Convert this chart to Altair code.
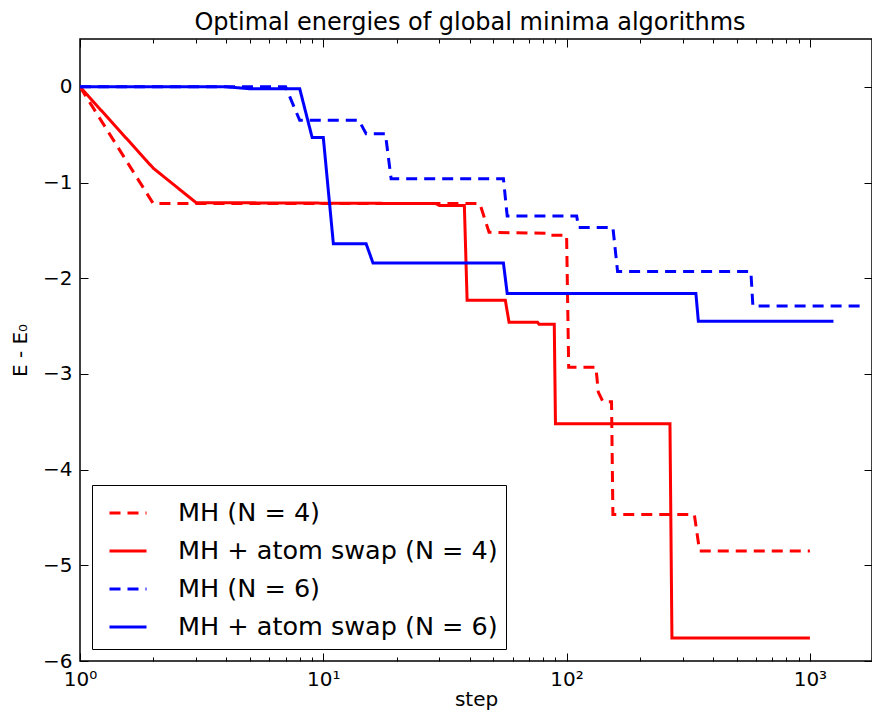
import altair as alt
import pandas as pd

series_names = ["MH (N = 4)", "MH + atom swap (N = 4)", "MH (N = 6)", "MH + atom swap (N = 6)"]
series_colors = ["#ff0000", "#ff0000", "#0000ff", "#0000ff"]
series_dashes = [[11, 7], [1, 0], [11, 7], [1, 0]]

# MH (N = 4)  -- red dashed
mh4_step = [1, 2, 44, 48, 84, 85, 100, 102, 132, 135, 141, 153, 155, 335, 352, 1000]
mh4_E = [0, -1.22, -1.22, -1.52, -1.53, -1.55, -1.55, -2.93, -2.93, -3.19, -3.29, -3.29,
         -4.47, -4.47, -4.85, -4.85]

# MH + atom swap (N = 4) -- red solid
swap4_step = [1, 2, 3, 29, 30, 38, 39, 56, 58, 76, 77, 89, 90, 266, 271, 1000]
swap4_E = [0, -0.85, -1.21, -1.22, -1.24, -1.24, -2.23, -2.23, -2.46, -2.46, -2.48, -2.48,
           -3.52, -3.52, -5.76, -5.76]

# MH (N = 6) -- blue dashed
mh6_step = [1, 7, 8, 14, 15, 18, 19, 55, 57, 110, 112, 155, 162, 572, 583, 1680]
mh6_E = [0, 0, -0.35, -0.35, -0.49, -0.49, -0.96, -0.96, -1.35, -1.35, -1.47, -1.47,
         -1.93, -1.93, -2.29, -2.29]

# MH + atom swap (N = 6) -- blue solid
swap6_step = [1, 4, 5, 8, 9, 10, 11, 15, 16, 55, 57, 340, 348, 1250]
swap6_E = [0, 0, -0.02, -0.02, -0.53, -0.53, -1.64, -1.64, -1.84, -1.84, -2.16, -2.16,
           -2.45, -2.45]

x_domain = [1, 1800]
y_domain = [-6, 0.5]
x_major = [1, 10, 100, 1000]
x_major_labels = ["10⁰", "10¹", "10²", "10³"]
x_minor = [m * 10 ** k for k in range(3) for m in range(2, 10)]
y_ticks = [-6, -5, -4, -3, -2, -1, 0]

rows = []
for name, steps, energies in zip(series_names,
                                 [mh4_step, swap4_step, mh6_step, swap6_step],
                                 [mh4_E, swap4_E, mh6_E, swap6_E]):
    for i, (s, e) in enumerate(zip(steps, energies)):
        rows.append({"series": name, "step": s, "energy": e, "order": i})
df = pd.DataFrame(rows)

W, H = 792, 622
x_ticks = sorted(x_major + x_minor)
label_expr = " : ".join(f"datum.value == {v} ? '{l}'" for v, l in zip(x_major, x_major_labels)) + " : ''"
major_test = "indexof([" + ",".join(str(v) for v in x_major) + "], datum.value) >= 0"
x_tick_size = {"condition": {"test": major_test, "value": 8}, "value": 4}

xs = alt.Scale(type="log", domain=x_domain, nice=False)
ys = alt.Scale(domain=y_domain, nice=False, zero=False)

base = alt.Chart(df)

lines = base.mark_line(strokeWidth=3, clip=True).encode(
    x=alt.X("step:Q", scale=xs,
            axis=alt.Axis(orient="bottom", values=x_ticks, labelExpr=label_expr, ticks=False,
                          domain=False, grid=False, labelOverlap=False, labelFlush=False,
                          labelPadding=8, labelFontSize=20, title="step", titleFontSize=20,
                          titlePadding=0)),
    y=alt.Y("energy:Q", scale=ys,
            axis=alt.Axis(orient="left", values=y_ticks, ticks=False, domain=False, grid=False,
                          labelPadding=8, labelFontSize=20, title="E - E₀", titleFontSize=20,
                          titlePadding=12)),
    color=alt.Color("series:N", scale=alt.Scale(domain=series_names, range=series_colors),
                    legend=alt.Legend(title=None)),
    strokeDash=alt.StrokeDash("series:N", scale=alt.Scale(domain=series_names, range=series_dashes),
                              legend=alt.Legend(title=None)),
    order="order:Q",
)

ticks_in_a = base.mark_line(opacity=0).encode(
    x=alt.X("step:Q", scale=xs,
            axis=alt.Axis(orient="top", offset=-H, values=x_ticks, labels=False, domain=False,
                          grid=False, ticks=True, tickSize=x_tick_size, tickColor="black",
                          tickWidth=1, title=None)),
    y=alt.Y("energy:Q", scale=ys,
            axis=alt.Axis(orient="right", offset=-W, values=y_ticks, labels=False, domain=False,
                          grid=False, ticks=True, tickSize=8, tickColor="black", tickWidth=1,
                          title=None)),
    detail="series:N",
)

ticks_in_b = base.mark_line(opacity=0).encode(
    x=alt.X("step:Q", scale=xs,
            axis=alt.Axis(orient="bottom", offset=-H, values=x_ticks, labels=False, domain=False,
                          grid=False, ticks=True, tickSize=x_tick_size, tickColor="black",
                          tickWidth=1, title=None)),
    y=alt.Y("energy:Q", scale=ys,
            axis=alt.Axis(orient="left", offset=-W, values=y_ticks, labels=False, domain=False,
                          grid=False, ticks=True, tickSize=8, tickColor="black", tickWidth=1,
                          title=None)),
    detail="series:N",
)

chart = alt.layer(ticks_in_a, ticks_in_b, lines).resolve_axis(
    x="independent", y="independent"
).properties(
    width=W,
    height=H,
    autosize="none",
    padding={"left": 72, "top": 31, "right": 0, "bottom": 50},
    background="white",
    title=alt.TitleParams("Optimal energies of global minima algorithms", dx=-6),
).configure_view(
    stroke="black", strokeWidth=1.5
).configure_axis(
    labelFont="DejaVu Sans", titleFont="DejaVu Sans", labelColor="black", titleColor="black",
    titleFontWeight="normal"
).configure_title(
    font="DejaVu Sans", fontSize=24, fontWeight="normal", color="black", anchor="middle", offset=4
).configure_legend(
    orient="bottom-left", offset=12, strokeColor="black", strokeWidth=1, fillColor="white",
    padding=8, labelFontSize=25.5, labelFont="DejaVu Sans", labelColor="black", labelLimit=0,
    symbolType="stroke", symbolSize=1369, symbolStrokeWidth=3, rowPadding=4, labelOffset=30,
    symbolOffset=8, cornerRadius=0
)

chart.save("out.html", embed_options={"renderer": "svg", "actions": False})
